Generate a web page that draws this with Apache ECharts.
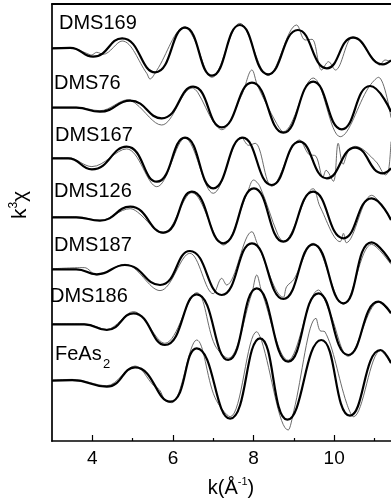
<!DOCTYPE html>
<html>
<head>
<meta charset="utf-8">
<script src="https://cdn.jsdelivr.net/npm/echarts@6/dist/echarts.min.js"></script>
<style>
html, body { margin: 0; padding: 0; background: #fff; }
#main { width: 391px; height: 502px; }
</style>
</head>
<body>
<div id="main"></div>
<script>
// k (1/A) and k^3 chi, each pair relative to its own baseline
var kTicks = [4, 6, 8, 10];
var kMinorTicks = [5, 7, 9, 11];
var names = ['DMS169', 'DMS76', 'DMS167', 'DMS126', 'DMS187', 'DMS186', 'FeAs2'];
var offsets = [392.7, 333.3, 282.7, 223.7, 171.7, 116.7, 60.3];

// fitted curves (thick)
var fit169 = [[3.0,0],[3.45,0.5],[4.02,-8.4],[4.74,10],[5.56,-24],[6.30,20.6],[6.97,-27.4],[7.66,23.3],[8.36,-26],[9.10,18.3],[9.82,-20],[10.47,10.6],[11.21,-16],[11.41,-12]];
var fit76 = [[3.0,0],[3.6,0],[4.19,-4],[4.94,7],[5.72,-10.6],[6.50,21],[7.21,-19.6],[7.96,25],[8.74,-25],[9.48,26],[10.19,-21.6],[10.89,21.7],[11.41,-4]];
var fit167 = [[3.0,0],[3.4,0],[3.99,-11],[4.85,11.6],[5.60,-23.4],[6.30,20.6],[7.00,-30],[7.73,20.6],[8.45,-26.7],[9.14,16.6],[9.82,-20],[10.52,10.6],[11.21,-15],[11.41,-10]];
var fit126 = [[3.0,0],[3.6,0],[4.19,-3.4],[4.94,10.6],[5.76,-15.4],[6.47,25.6],[7.25,-26],[8.01,29],[8.74,-24.4],[9.48,25.6],[10.23,-21],[10.93,19],[11.41,-2.7]];
var fit187 = [[3.0,0],[3.6,0],[4.11,-5],[4.81,4.3],[5.68,-15.7],[6.42,18.3],[7.21,-25.7],[7.96,26],[8.74,-29.7],[9.48,25],[10.23,-34],[10.93,27],[11.41,7]];
var fit186 = [[3.0,0],[3.8,0],[4.36,-5.7],[5.02,11],[5.80,-20.7],[6.59,30],[7.37,-35.7],[8.08,36],[8.86,-37.4],[9.61,31],[10.35,-30.7],[11.10,22.6],[11.41,11]];
var fitFe = [[3.0,0],[3.5,0.5],[4.36,-6],[5.06,13.4],[5.93,-21],[6.59,32.4],[7.42,-38],[8.16,42.4],[8.84,-39],[9.68,40.7],[10.39,-35],[11.15,30.7],[11.41,17.7]];

// measured data (thin)
var dat169 = [[3.0,0.5],[3.45,0.5],[3.86,-5],[3.98,-6.7],[4.11,-4],[4.27,-6],[4.74,7.3],[5.35,-25],[5.43,-30.7],[5.6,-22],[6.30,21.6],[6.51,10.6],[6.97,-29],[7.66,25],[8.36,-27.4],[9.07,23.3],[9.28,8.3],[9.45,9],[9.69,-21.7],[9.86,-13.4],[10.03,-21.7],[10.47,11.6],[10.97,-10],[11.13,-16.7],[11.26,-11.7],[11.41,-13.4]];
var dat76 = [[3.0,0.5],[3.6,0.5],[4.19,-3],[4.9,8],[5.08,4],[5.72,-17.3],[6.48,19.7],[6.62,15],[7.0,-14],[7.21,-22],[7.7,12],[7.96,37.7],[8.1,22],[8.57,-15.6],[8.74,-24],[9.48,29.7],[10.15,-29],[10.85,20],[11.1,30.4],[11.41,-10]];
var dat167 = [[3.0,0.5],[3.4,0.5],[3.99,-8.3],[4.85,9.4],[5.60,-28.4],[6.30,20],[7.00,-35],[7.70,21],[7.88,13],[8.04,15],[8.45,-28],[9.14,18.3],[9.37,4],[9.55,2],[9.72,-19],[9.8,-12],[9.98,-23],[10.1,15],[10.22,-6],[10.35,7],[10.52,12],[11.03,-3],[11.28,-16.6],[11.35,-12],[11.41,16.6]];
var dat126 = [[3.0,0.5],[3.6,0.5],[4.19,-3],[4.94,8.6],[5.12,5.3],[5.76,-16],[6.47,24.6],[7.25,-27.7],[7.85,25],[8.0,37.3],[8.16,30.6],[8.6,-17],[8.74,-24],[9.48,28.6],[9.65,10.6],[10.15,-24.4],[10.23,-16],[10.3,-25.4],[10.93,22],[11.41,-3]];
var dat187 = [[3.0,0.5],[3.8,1.7],[4.11,-5.7],[4.81,5],[5.68,-21.3],[6.42,16],[7.0,-24.4],[7.21,-9],[7.33,-15.7],[7.96,37.6],[8.1,25],[8.74,-28],[8.82,-17.4],[9.0,-10],[9.48,26],[10.23,-35],[10.93,25],[11.41,5]];
var dat186 = [[3.0,0.5],[3.8,0.5],[4.36,-5],[5.02,12.7],[5.80,-19],[6.59,31.6],[7.04,-20.7],[7.37,-34],[7.95,30],[8.08,49.3],[8.2,33],[8.86,-36],[9.61,34.3],[9.9,11],[10.35,-32],[11.10,22],[11.41,11]];
var datFe = [[3.0,0.5],[3.5,1.3],[4.36,-5],[5.06,14.7],[5.51,-4.3],[5.67,-9.3],[5.80,-19.3],[5.97,-22],[6.59,40.7],[7.04,-16.6],[7.42,-36],[8.08,49],[8.2,40],[8.86,-49.3],[9.0,-30],[9.55,62.4],[9.65,50],[9.77,49],[10.31,-22.6],[10.48,-36],[11.15,30],[11.41,17]];

var fits = [fit169, fit76, fit167, fit126, fit187, fit186, fitFe];
var dats = [dat169, dat76, dat167, dat126, dat187, dat186, datFe];

var FONT = '"Liberation Sans", Arial, sans-serif';

function shift(arr, off) {
    return arr.map(function (p) { return [p[0], p[1] + off]; });
}

var series = [];
for (var i = 0; i < names.length; i++) {
    series.push({
        name: names[i] + ' data',
        type: 'line',
        data: shift(dats[i], offsets[i]),
        smooth: 0.35,
        showSymbol: false,
        lineStyle: { color: '#5a5a5a', width: 0.9 },
        z: 2
    });
    series.push({
        name: names[i] + ' fit',
        type: 'line',
        data: shift(fits[i], offsets[i]),
        smooth: 0.5,
        showSymbol: false,
        lineStyle: { color: '#000', width: 2.2 },
        z: 3
    });
}

// sample labels
var labelPos = [[59, 23], [54, 83], [55, 135], [54, 191], [54, 245], [50, 296], [55, 354]];
var graphics = [];
for (var j = 0; j < names.length; j++) {
    var txt = names[j] === 'FeAs2' ? 'FeAs' : names[j];
    graphics.push({
        type: 'text',
        x: labelPos[j][0],
        y: labelPos[j][1],
        style: { text: txt, fill: '#000', font: '20px ' + FONT, textVerticalAlign: 'middle' },
        z: 10
    });
}
graphics.push({
    type: 'text', x: 103, y: 364,
    style: { text: '2', fill: '#000', font: '13px ' + FONT, textVerticalAlign: 'middle' },
    z: 10
});
// axis titles
graphics.push({
    type: 'text', x: 20, y: 205, rotation: Math.PI / 2,
    style: {
        text: '{a|k}{b|3}{a|χ}',
        textAlign: 'center', textVerticalAlign: 'middle',
        rich: {
            a: { fontSize: 21, fontFamily: FONT, color: '#000', lineHeight: 24 },
            b: { fontSize: 12, fontFamily: FONT, color: '#000', verticalAlign: 'top', lineHeight: 14 }
        }
    }
});
graphics.push({
    type: 'text', x: 231, y: 488,
    style: {
        text: '{a|k(Å}{b|-1}{a|)}',
        textAlign: 'center', textVerticalAlign: 'middle',
        rich: {
            a: { fontSize: 20, fontFamily: FONT, color: '#000', lineHeight: 24 },
            b: { fontSize: 11, fontFamily: FONT, color: '#000', verticalAlign: 'top', lineHeight: 14 }
        }
    }
});

var chart = echarts.init(document.getElementById('main'));
var option = {
    animation: false,
    backgroundColor: '#fff',
    grid: { left: 52, right: 0, top: 4, bottom: 61 },
    xAxis: [
        {
            type: 'value', min: 3, max: 11.41, position: 'bottom',
            axisLine: { lineStyle: { color: '#000', width: 1.7 } },
            axisTick: { show: true, inside: true, length: 6, customValues: kTicks, lineStyle: { color: '#000', width: 1.2 } },
            axisLabel: { customValues: kTicks, color: '#000', fontSize: 19, fontFamily: FONT, margin: 8 },
            splitLine: { show: false }
        },
        {
            type: 'value', min: 3, max: 11.41, position: 'bottom',
            axisLine: { show: false },
            axisTick: { show: true, inside: true, length: 3, customValues: kMinorTicks, lineStyle: { color: '#000', width: 1.2 } },
            axisLabel: { show: false },
            splitLine: { show: false }
        },
        {
            type: 'value', min: 3, max: 11.41, position: 'top',
            axisLine: { lineStyle: { color: '#000', width: 2 } },
            axisTick: { show: false },
            axisLabel: { show: false },
            splitLine: { show: false }
        }
    ],
    yAxis: {
        type: 'value', min: 0, max: 437,
        axisLine: { show: true, lineStyle: { color: '#000', width: 1.7 } },
        axisTick: { show: false },
        axisLabel: { show: false },
        splitLine: { show: false }
    },
    graphic: graphics,
    series: series
};
option && chart.setOption(option);
</script>
</body>
</html>
